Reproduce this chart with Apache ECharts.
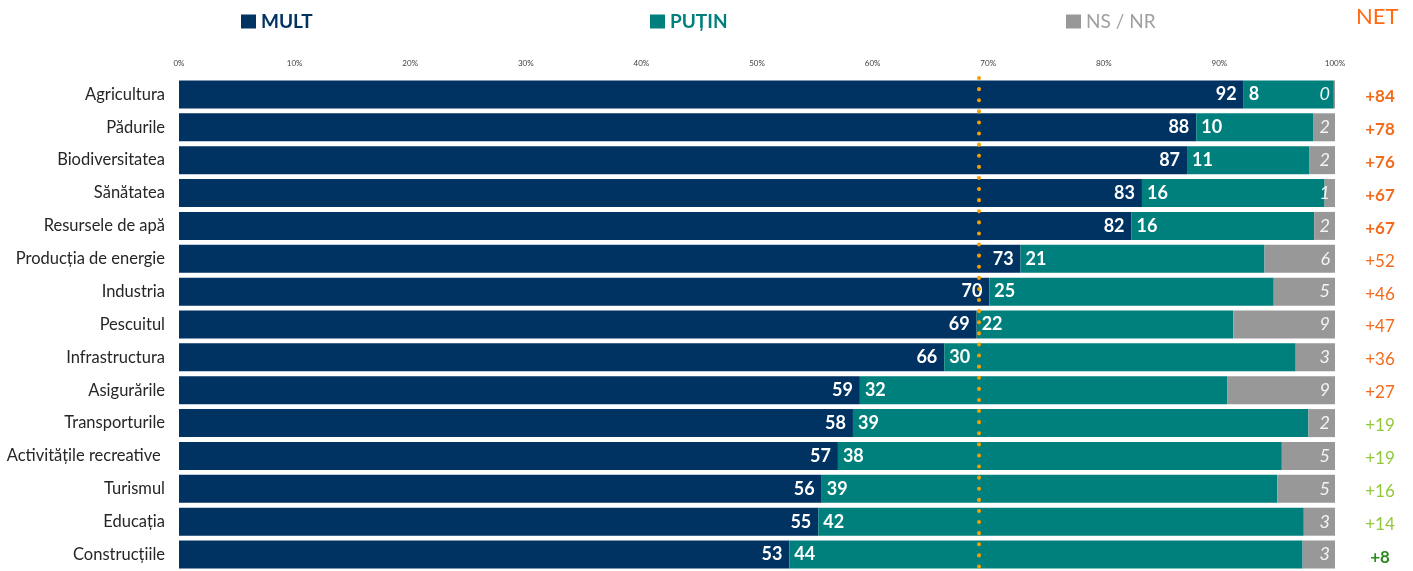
<!DOCTYPE html>
<html>
<head>
<meta charset="utf-8">
<script src="https://cdn.jsdelivr.net/npm/echarts@6/dist/echarts.min.js"></script>
<style>
html,body{margin:0;padding:0;background:#fff;}
#chart{width:1413px;height:571px;}
</style>
</head>
<body>
<div id="chart"></div>
<script>
const categories = ['Agricultura','Pădurile','Biodiversitatea','Sănătatea','Resursele de apă','Producția de energie','Industria','Pescuitul','Infrastructura','Asigurările','Transporturile','Activitățile recreative ','Turismul','Educația','Construcțiile'];
const mult  = [92.1, 88.0, 87.2, 83.3, 82.4, 72.8, 70.1, 69.0, 66.2, 58.9, 58.3, 57.0, 55.6, 55.3, 52.8];
const putin = [7.8, 10.1, 10.6, 15.8, 15.8, 21.1, 24.6, 22.2, 30.4, 31.8, 39.4, 38.4, 39.4, 42.0, 44.4];
const nsnr  = [0.1, 1.9, 2.2, 0.9, 1.8, 6.1, 5.3, 8.8, 3.4, 9.3, 2.3, 4.6, 5.0, 2.7, 2.8];
const net   = [84, 78, 76, 67, 67, 52, 46, 47, 36, 27, 19, 19, 16, 14, 8];
const tickValues = [0, 10, 20, 30, 40, 50, 60, 70, 80, 90, 100];
const referenceLine = 69.2;

const FONT = 'Lato';
const NAVY = '#003262', TEAL = '#00807D', GRAY = '#989898';

function netStyle(v) {
  if (v >= 60) return 'a';
  if (v >= 20) return 'b';
  if (v >= 10) return 'c';
  return 'd';
}

const chart = echarts.init(document.getElementById('chart'), null, {renderer: 'canvas'});
const option = {
  animation: false,
  backgroundColor: '#ffffff',
  title: {
    text: 'NET', left: 1356, top: 6, padding: 0,
    textStyle: {color: '#FF6A13', fontSize: 22, fontWeight: 'normal', fontFamily: FONT}
  },
  legend: [
    {left: 241, top: 12, itemWidth: 15, itemHeight: 14, icon: 'rect', padding: 0, itemGap: 0,
     data: [{name: 'MULT', textStyle: {color: NAVY, fontWeight: 'bold', fontSize: 19, fontFamily: FONT}}]},
    {left: 650, top: 12, itemWidth: 15, itemHeight: 14, icon: 'rect', padding: 0, itemGap: 0,
     data: [{name: 'PUȚIN', textStyle: {color: TEAL, fontWeight: 'bold', fontSize: 19, fontFamily: FONT}}]},
    {left: 1066, top: 12, itemWidth: 15, itemHeight: 14, icon: 'rect', padding: 0, itemGap: 0,
     data: [{name: 'NS / NR', textStyle: {color: '#A0A0A0', fontWeight: 'normal', fontSize: 19, fontFamily: FONT}}]}
  ],
  grid: {left: 179, right: 78, top: 78, height: 498, containLabel: false},
  xAxis: {
    type: 'value', position: 'top', min: tickValues[0], max: tickValues[tickValues.length - 1], interval: 10,
    axisLine: {show: false}, axisTick: {show: false}, splitLine: {show: false},
    axisLabel: {formatter: '{value}%', fontSize: 8, color: '#404040', margin: 11, fontFamily: FONT}
  },
  yAxis: [
    {
      type: 'category', inverse: true, data: categories,
      axisLine: {show: false}, axisTick: {show: false},
      axisLabel: {fontSize: 16.5, color: '#262626', margin: 14, fontFamily: FONT}
    },
    {
      type: 'category', inverse: true, position: 'right', data: net.map(v => '+' + v),
      axisLine: {show: false}, axisTick: {show: false},
      axisLabel: {
        margin: 45, align: 'center',
        formatter: (val, i) => '{' + netStyle(net[i]) + '|+' + net[i] + '}',
        rich: {
          a: {color: '#F26B1D', fontWeight: 'bold', fontSize: 17, fontFamily: FONT, padding: [5, 0, 0, 0]},
          b: {color: '#F26B1D', fontWeight: 'normal', fontSize: 17, fontFamily: FONT, padding: [5, 0, 0, 0]},
          c: {color: '#92C83A', fontWeight: 'normal', fontSize: 17, fontFamily: FONT, padding: [5, 0, 0, 0]},
          d: {color: '#2E8B22', fontWeight: 'bold', fontSize: 17, fontFamily: FONT, padding: [5, 0, 0, 0]}
        }
      }
    }
  ],
  series: [
    {
      name: 'MULT', type: 'bar', stack: 'total', barWidth: 28, data: mult,
      itemStyle: {color: NAVY},
      label: {show: true, position: 'insideRight', distance: 7, color: '#fff', fontWeight: 'bold', fontSize: 18, fontFamily: FONT,
        formatter: p => Math.round(p.value)},
      markLine: {
        silent: true, symbol: 'none', label: {show: false},
        lineStyle: {color: '#F5A000', width: 4, type: [0.1, 11], cap: 'round'},
        data: [{xAxis: referenceLine}]
      },
      z: 2
    },
    {
      name: 'PUȚIN', type: 'bar', stack: 'total', barWidth: 28, data: putin,
      itemStyle: {color: TEAL},
      label: {show: true, position: 'insideLeft', distance: 5, color: '#fff', fontWeight: 'bold', fontSize: 18, fontFamily: FONT,
        formatter: p => Math.round(p.value)},
      z: 2
    },
    {
      name: 'NS / NR', type: 'bar', stack: 'total', barWidth: 28, data: nsnr,
      itemStyle: {color: GRAY},
      label: {show: true, position: 'insideRight', distance: 5, color: '#F4F4F4', fontStyle: 'italic', fontWeight: 'normal', fontSize: 18, fontFamily: FONT,
        formatter: p => Math.round(p.value)},
      z: 2
    }
  ]
};
chart.setOption(option);
</script>
</body>
</html>
